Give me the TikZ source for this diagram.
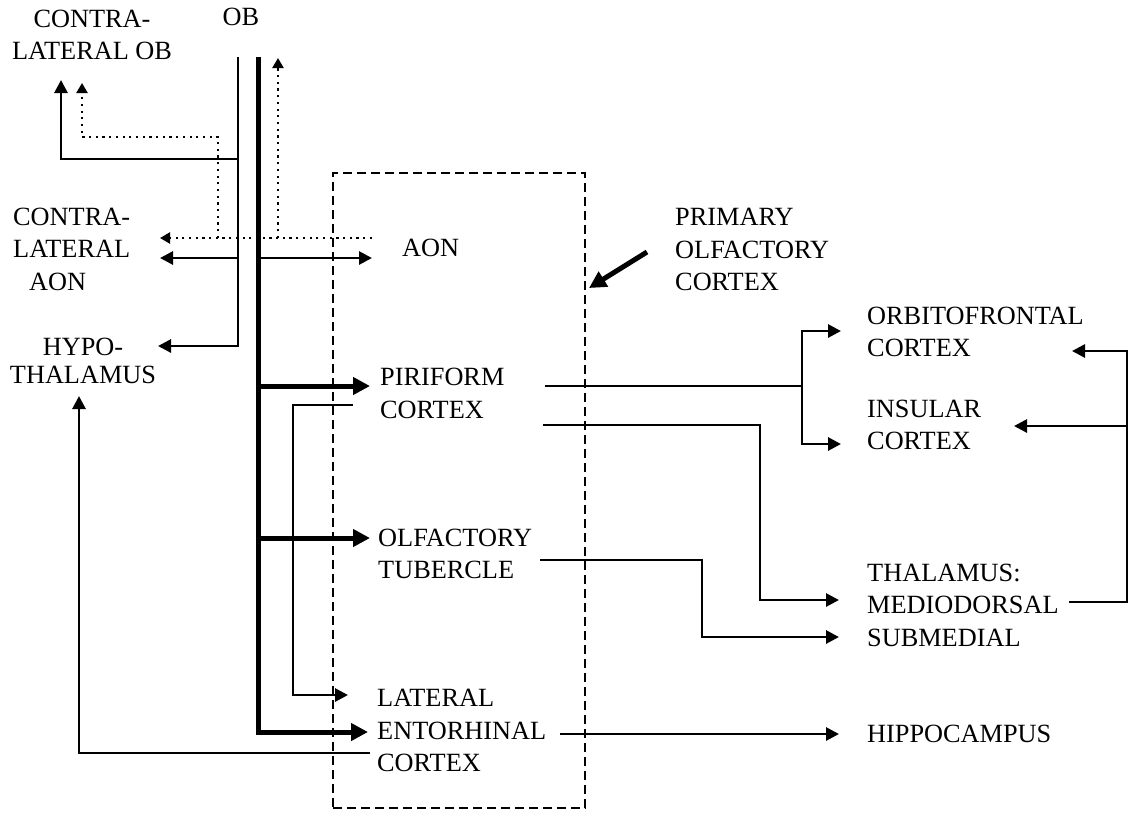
\documentclass[tikz,border=0pt]{standalone}
\usepackage{fontspec}
\setmainfont{Liberation Serif}
\usetikzlibrary{arrows.meta, positioning}

\begin{document}
\begin{tikzpicture}[
    x=1pt, y=-1pt,
    region/.style = {inner sep=0pt, align=left, anchor=west, font=\fontsize{26.3}{32.5}\selectfont},
    tract/.style = {line width=2.8pt, -{Triangle[length=13pt, width=13pt]}},
    bigtract/.style = {line width=5pt, -{Triangle[length=17pt, width=17pt]}},
    fibre/.style = {line width=2.2pt, dash pattern=on 2.2pt off 4.5pt, -{Triangle[length=10pt, width=11pt]}},
    tractline/.style = {line width=2.8pt},
    ]

    \useasboundingbox (0,0) rectangle (1131,812);

    % primary olfactory cortex frame
    \node[draw, dash pattern=on 9pt off 5pt, line width=2pt, minimum width=252pt, minimum height=635pt, inner sep=0pt] (pcbox) at (459,490.5) {};

    \node[region, align=center, anchor=center] (cob) at (92,35) {CONTRA-\\LATERAL OB};
    \node[region, anchor=center] (ob) at (241,17) {OB};
    \node[region] (caon) at (13,249) {CONTRA-\\LATERAL\\\hspace*{16pt}AON};
    \node[region] (aon) at (402,248) {AON};
    \node[region, align=center, anchor=center] (hyp) at (83,361) {HYPO-\\[-4.5pt]THALAMUS};
    \node[region] (pir) at (380,393.5) {PIRIFORM\\CORTEX};
    \node[region] (olf) at (378,554) {OLFACTORY\\TUBERCLE};
    \node[region] (ent) at (377,730.5) {LATERAL\\ENTORHINAL\\CORTEX};
    \node[region] (poc) at (675,249.5) {PRIMARY\\OLFACTORY\\CORTEX};
    \node[region] (ofc) at (867,332) {ORBITOFRONTAL\\CORTEX};
    \node[region] (ins) at (867,425) {INSULAR\\CORTEX};
    \node[region] (thal) at (867,605) {THALAMUS:\\MEDIODORSAL\\SUBMEDIAL};
    \node[region] (hip) at (867,734) {HIPPOCAMPUS};

    % junctions and arrow ends
    \coordinate (aoc) at (238,57);
    \coordinate (lot) at (258,57);
    \coordinate (cobSolid) at (61,80);
    \coordinate (cobDot) at (82,83);
    \coordinate (obDot) at (278,58);
    \coordinate (aonDot) at (372,238);
    \coordinate (caonDot) at (160,238);
    \coordinate (aonIn) at (372,258);
    \coordinate (caonIn) at (160,258);
    \coordinate (hypIn) at (158,346);
    \coordinate (hypUp) at (79,396);
    \coordinate (pirIn) at (370,386);
    \coordinate (olfIn) at (370,538);
    \coordinate (entIn) at (368,732);
    \coordinate (latIn) at (348,695);
    \coordinate (pirBack) at (353,405);
    \coordinate (entBack) at (370,753);
    \coordinate (pirOut) at (545,386);
    \coordinate (pirOut2) at (543,425);
    \coordinate (olfOut) at (540,560);
    \coordinate (entOut) at (560,734);
    \coordinate (fork) at (802,386);
    \coordinate (ofcIn) at (841,331);
    \coordinate (insIn) at (841,444);
    \coordinate (mdIn) at (839,600);
    \coordinate (smIn) at (839,637);
    \coordinate (hipIn) at (839,734);
    \coordinate (mdOut) at (1069,602);
    \coordinate (ofcBack) at (1072,351);
    \coordinate (insBack) at (1014,426);
    \coordinate (pocTip) at (589,288);

    % olfactory bulb outputs
    \draw[fibre] (aonDot) -- (caonDot);
    \draw[fibre] (obDot |- aonDot) -- (obDot);
    \draw[fibre] (aonDot) ++(-154,0) -- ++(0,-101) -| (cobDot);
    \draw[tract] (aoc) |- (hypIn);
    \draw[tract] (aoc) ++(0,102) -| (cobSolid);
    \draw[tract] (aoc |- caonIn) -- (caonIn);
    \draw[tract] (lot |- aonIn) -- (aonIn);
    \draw[bigtract] (lot) |- (entIn);
    \draw[bigtract] (lot |- pirIn) -- (pirIn);
    \draw[bigtract] (lot |- olfIn) -- (olfIn);

    % cortical outputs
    \draw[tract] (pirBack) -- ++(-60,0) |- (latIn);
    \draw[tract] (entBack) -| (hypUp);
    \draw[tractline] (pirOut) -- (fork);
    \draw[tract] (fork) |- (ofcIn);
    \draw[tract] (fork) |- (insIn);
    \draw[tract] (pirOut2) -- ++(217,0) |- (mdIn);
    \draw[tract] (olfOut) -- ++(162,0) |- (smIn);
    \draw[tract] (entOut) -- (hipIn);
    \draw[tract] (mdOut) -- ++(58,0) |- (ofcBack);
    \draw[tract] (mdOut) ++(58,-176) -- (insBack);

    \draw[bigtract] (poc.west) ++(-28,2.5) -- (pocTip);
\end{tikzpicture}
\end{document}
